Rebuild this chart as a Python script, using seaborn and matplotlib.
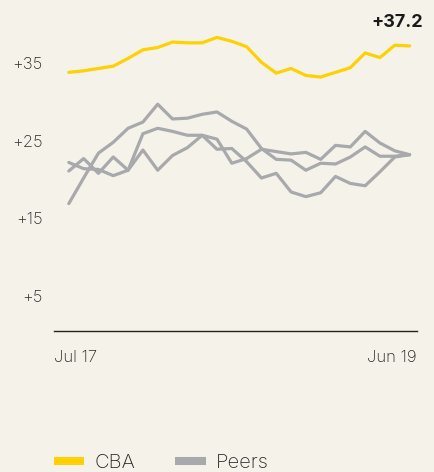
import matplotlib.pyplot as plt
import pandas as pd
import seaborn as sns
from matplotlib.lines import Line2D

# Monthly index performance, Jul 17 - Jun 19 (24 months)
months = pd.date_range('2017-07-01', '2019-06-01', freq='MS').strftime('%b %y').tolist()

cba = [33.8, 34.0, 34.3, 34.6, 35.6, 36.7, 37.0, 37.7, 37.6, 37.6, 38.3, 37.8,
       37.1, 35.1, 33.7, 34.3, 33.4, 33.2, 33.8, 34.4, 36.3, 35.7, 37.3, 37.2]
peer_a = [16.9, 20.2, 23.4, 24.8, 26.6, 27.4, 29.7, 27.8, 27.9, 28.4, 28.7, 27.5,
          26.5, 24.0, 22.6, 22.5, 21.2, 22.1, 22.0, 22.9, 24.2, 23.0, 23.0, 23.2]
peer_b = [21.1, 22.7, 20.8, 22.9, 21.2, 23.8, 21.2, 23.1, 24.1, 25.7, 25.2, 22.1,
          22.7, 23.9, 23.6, 23.3, 23.5, 22.6, 24.4, 24.2, 26.2, 24.7, 23.7, 23.2]
peer_c = [22.2, 21.4, 21.3, 20.5, 21.2, 25.9, 26.6, 26.2, 25.7, 25.7, 23.9, 24.0,
          22.3, 20.2, 20.8, 18.4, 17.8, 18.3, 20.4, 19.5, 19.2, 21.0, 22.9, 23.2]

y_ticks = [5, 15, 25, 35]
group_colors = {'CBA': '#FFD100', 'Peers': '#A8A9AC'}
bg = '#F5F2EA'
ink = '#2a2a2a'

# long-form table for seaborn
series = {'cba': ('CBA', cba), 'pa': ('Peers', peer_a),
          'pb': ('Peers', peer_b), 'pc': ('Peers', peer_c)}
rows = []
for key, (grp, vals) in series.items():
    for i, v in enumerate(vals):
        rows.append({'step': i, 'value': v, 'series': key, 'group': grp})
df = pd.DataFrame(rows)
# draw peers first so CBA sits on top
df['order'] = (df['group'] == 'CBA').astype(int)
df = df.sort_values(['order', 'series', 'step'])

sns.set_theme(style='white')
plt.rcParams['font.family'] = ['Inter', 'DejaVu Sans']

fig = plt.figure(figsize=(4.34, 4.72), dpi=100, facecolor=bg)
ax = fig.add_axes([54 / 434, 141 / 472, 363 / 434, 306.8 / 472])
ax.set_facecolor(bg)

sns.lineplot(data=df, x='step', y='value', hue='group', units='series',
             estimator=None, palette=group_colors, linewidth=2.3,
             legend=False, sort=False, ax=ax)

ax.set_xlim(-1.0, 23.5)
ax.set_ylim(0.5, 40)

for s in ['top', 'right', 'left']:
    ax.spines[s].set_visible(False)
ax.spines['bottom'].set_color('#222222')
ax.spines['bottom'].set_linewidth(1.0)

ax.set_yticks(y_ticks)
ax.set_yticklabels([f'+{t}' for t in y_ticks])
ax.set_xticks([-1.0, 23.5])
ax.set_xticklabels([months[0], months[-1]])
xl = ax.get_xticklabels()
xl[0].set_horizontalalignment('left')
xl[1].set_horizontalalignment('right')
ax.tick_params(axis='both', length=0, labelsize=12, colors=ink)
ax.tick_params(axis='y', pad=8)
ax.tick_params(axis='x', pad=14)
for lab in ax.get_xticklabels() + ax.get_yticklabels():
    lab.set_fontweight('light')
ax.set_xlabel('')
ax.set_ylabel('')
ax.grid(False)

ax.annotate(f'+{cba[-1]}', xy=(len(cba) - 1, cba[-1]), xytext=(10, 17),
            textcoords='offset points', ha='right', va='center',
            fontsize=13, fontweight='bold', color='#1a1a1a')

handles = [Line2D([], [], color=group_colors[g], linewidth=5.8, solid_capstyle='butt')
           for g in group_colors]
fig.legend(handles, list(group_colors), loc='center left',
           bbox_to_anchor=(54 / 434, 9 / 472), frameon=False, ncol=2,
           fontsize=14.5, handlelength=1.5, handletextpad=0.5, columnspacing=2.0,
           borderpad=0, borderaxespad=0, labelcolor=ink)
for t in fig.legends[0].get_texts():
    t.set_fontweight('light')

fig.savefig('out.png', dpi=100, facecolor=bg)
